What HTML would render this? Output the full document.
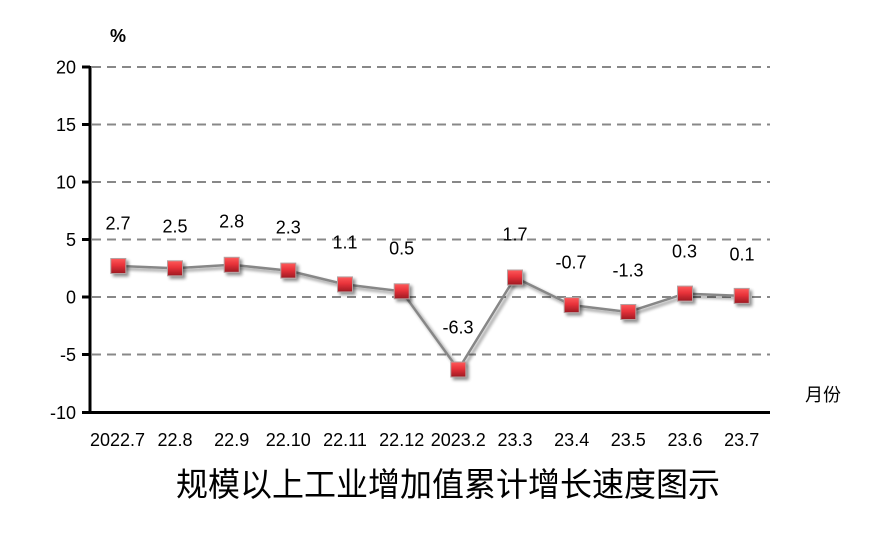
<!DOCTYPE html>
<html><head><meta charset="utf-8"><style>
html,body{margin:0;padding:0;background:#fff;}
svg{display:block;}
text{font-family:"Liberation Sans","Noto Sans CJK SC",sans-serif;fill:#000;}
</style></head><body>
<svg width="876" height="535" viewBox="0 0 876 535" xmlns="http://www.w3.org/2000/svg">
<defs>
<linearGradient id="rg" x1="0" y1="0" x2="0" y2="1">
<stop offset="0" stop-color="#ff5a5a"/>
<stop offset="0.45" stop-color="#e8323a"/>
<stop offset="1" stop-color="#9c1a22"/>
</linearGradient>
<filter id="sh" x="-50%" y="-50%" width="200%" height="200%">
<feGaussianBlur in="SourceAlpha" stdDeviation="1.6"/>
<feOffset dx="2.5" dy="2.5" result="o"/>
<feComponentTransfer><feFuncA type="linear" slope="0.45"/></feComponentTransfer>
<feMerge><feMergeNode/><feMergeNode in="SourceGraphic"/></feMerge>
</filter>
</defs>
<!-- gridlines -->
<g stroke="#888" stroke-width="2" stroke-dasharray="9,6">
<line x1="92" y1="67" x2="770" y2="67"/>
<line x1="92" y1="124.5" x2="770" y2="124.5"/>
<line x1="92" y1="182" x2="770" y2="182"/>
<line x1="92" y1="239.5" x2="770" y2="239.5"/>
<line x1="92" y1="297" x2="770" y2="297"/>
<line x1="92" y1="354.5" x2="770" y2="354.5"/>
</g>
<!-- axes -->
<g stroke="#000" stroke-width="3">
<line x1="90" y1="66" x2="90" y2="414"/>
<line x1="88.5" y1="412.5" x2="770" y2="412.5"/>
<line x1="82" y1="67" x2="90" y2="67"/>
<line x1="82" y1="124.5" x2="90" y2="124.5"/>
<line x1="82" y1="182" x2="90" y2="182"/>
<line x1="82" y1="239.5" x2="90" y2="239.5"/>
<line x1="82" y1="297" x2="90" y2="297"/>
<line x1="82" y1="354.5" x2="90" y2="354.5"/>
<line x1="82" y1="412.5" x2="90" y2="412.5"/>
</g>
<!-- y labels -->
<g font-size="18" text-anchor="end">
<text x="76" y="73.5">20</text>
<text x="76" y="131">15</text>
<text x="76" y="188.5">10</text>
<text x="76" y="246">5</text>
<text x="76" y="303.5">0</text>
<text x="76" y="361">-5</text>
<text x="76" y="419">-10</text>
</g>
<text x="110" y="42" font-size="18" font-weight="bold">%</text>
<text x="805" y="401" font-size="18">月份</text>
<!-- x labels -->
<g font-size="18" text-anchor="middle">
<text x="117.5" y="446">2022.7</text>
<text x="175" y="446">22.8</text>
<text x="231.7" y="446">22.9</text>
<text x="288.3" y="446">22.10</text>
<text x="345" y="446">22.11</text>
<text x="401.7" y="446">22.12</text>
<text x="458.3" y="446">2023.2</text>
<text x="515" y="446">23.3</text>
<text x="571.7" y="446">23.4</text>
<text x="628.3" y="446">23.5</text>
<text x="685" y="446">23.6</text>
<text x="741.7" y="446">23.7</text>
</g>
<!-- series line -->
<polyline filter="url(#sh)" fill="none" stroke="#878787" stroke-width="2.5" points="118.3,266 175,268.3 231.7,264.8 288.3,270.6 345,284.4 401.7,291.3 458.3,369.5 515,277.5 571.7,305.1 628.3,312 685,293.6 741.7,295.9"/>
<!-- markers -->
<g filter="url(#sh)" fill="url(#rg)" stroke="#b5a0a0" stroke-width="1">
<rect x="110.8" y="258.5" width="15" height="15"/>
<rect x="167.5" y="260.8" width="15" height="15"/>
<rect x="224.2" y="257.3" width="15" height="15"/>
<rect x="280.8" y="263.1" width="15" height="15"/>
<rect x="337.5" y="276.9" width="15" height="15"/>
<rect x="394.2" y="283.8" width="15" height="15"/>
<rect x="450.8" y="362" width="15" height="15"/>
<rect x="507.5" y="270" width="15" height="15"/>
<rect x="564.2" y="297.6" width="15" height="15"/>
<rect x="620.8" y="304.5" width="15" height="15"/>
<rect x="677.5" y="286.1" width="15" height="15"/>
<rect x="734.2" y="288.4" width="15" height="15"/>
</g>
<!-- data labels -->
<g font-size="18" text-anchor="middle">
<text x="118" y="229.5">2.7</text>
<text x="175" y="232.5">2.5</text>
<text x="231.7" y="227.5">2.8</text>
<text x="288.3" y="233.5">2.3</text>
<text x="345" y="248.5">1.1</text>
<text x="401.7" y="254.5">0.5</text>
<text x="458" y="333.5">-6.3</text>
<text x="515" y="240.5">1.7</text>
<text x="571" y="268.5">-0.7</text>
<text x="628" y="276.5">-1.3</text>
<text x="684.5" y="257.5">0.3</text>
<text x="742" y="260.5">0.1</text>
</g>
<!-- title -->
<text x="176" y="496" font-size="33" textLength="544" lengthAdjust="spacingAndGlyphs" style="font-family:'Noto Sans CJK SC','WenQuanYi Zen Hei',sans-serif;">规模以上工业增加值累计增长速度图示</text>
</svg>
</body></html>
